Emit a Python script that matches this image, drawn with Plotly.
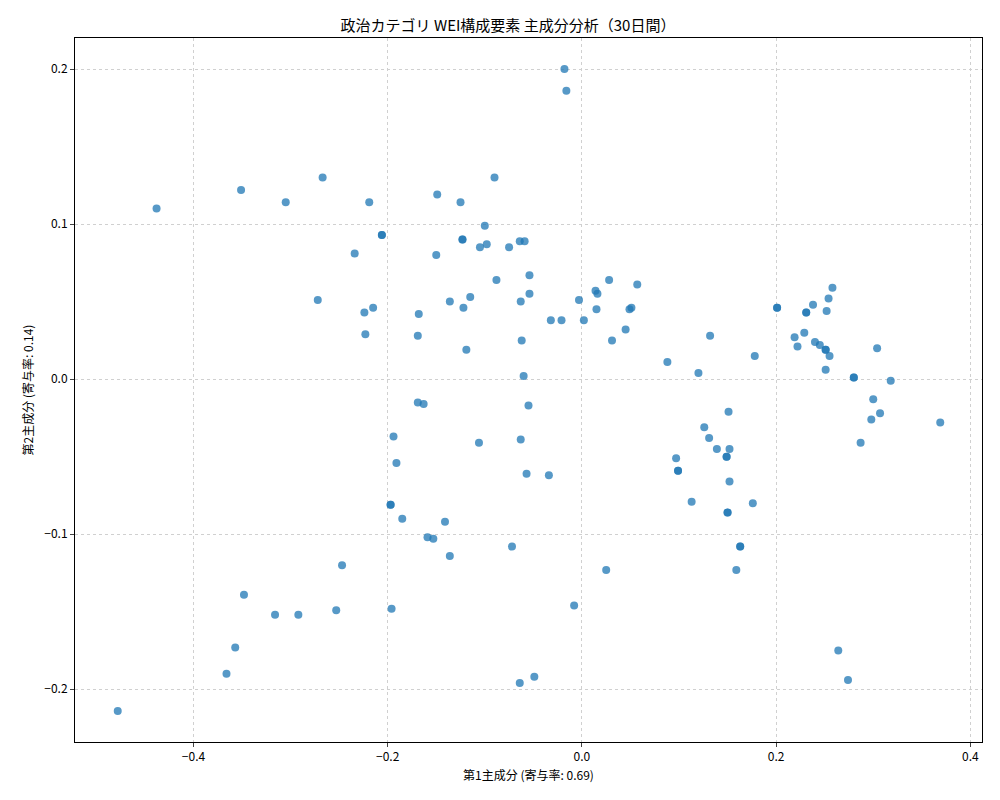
import plotly.graph_objects as go

pc1 = [-0.018, -0.016, -0.438, -0.351, -0.305, -0.267, -0.219, -0.149, -0.125, -0.090,
       -0.206, -0.206, -0.123, -0.123, -0.100, -0.098, -0.105, -0.075, -0.064, -0.059,
       -0.234, -0.150, -0.054, -0.088, 0.028, 0.057, -0.272, -0.215, -0.224, -0.168,
       -0.136, -0.115, -0.122, -0.063, -0.054, -0.003, 0.014, 0.016, 0.015, 0.045,
       0.049, 0.051, -0.032, -0.021, 0.002, -0.223, -0.169, 0.031, -0.062, -0.119,
       -0.060, -0.055, -0.169, -0.163, -0.194, -0.191, -0.106, -0.063, -0.057, -0.034,
       -0.197, -0.197, -0.185, -0.141, -0.159, -0.153, -0.136, -0.072, -0.247, -0.348,
       -0.316, -0.292, -0.253, -0.196, -0.357, -0.366, -0.478, -0.064, -0.049, -0.008,
       0.025, 0.088, 0.120, 0.132, 0.178, 0.201, 0.201, 0.219, 0.222, 0.229,
       0.231, 0.231, 0.238, 0.240, 0.245, 0.251, 0.251, 0.255, 0.254, 0.258,
       0.252, 0.251, 0.280, 0.280, 0.304, 0.300, 0.318, 0.307, 0.298, 0.287,
       0.369, 0.097, 0.099, 0.099, 0.126, 0.131, 0.139, 0.151, 0.152, 0.149,
       0.149, 0.152, 0.113, 0.176, 0.150, 0.150, 0.163, 0.163, 0.159, 0.264,
       0.274]
pc2 = [0.200, 0.186, 0.110, 0.122, 0.114, 0.130, 0.114, 0.119, 0.114, 0.130,
       0.093, 0.093, 0.090, 0.090, 0.099, 0.087, 0.085, 0.085, 0.089, 0.089,
       0.081, 0.080, 0.067, 0.064, 0.064, 0.061, 0.051, 0.046, 0.043, 0.042,
       0.050, 0.053, 0.046, 0.050, 0.055, 0.051, 0.057, 0.055, 0.045, 0.032,
       0.045, 0.046, 0.038, 0.038, 0.038, 0.029, 0.028, 0.025, 0.025, 0.019,
       0.002, -0.017, -0.015, -0.016, -0.037, -0.054, -0.041, -0.039, -0.061, -0.062,
       -0.081, -0.081, -0.090, -0.092, -0.102, -0.103, -0.114, -0.108, -0.120, -0.139,
       -0.152, -0.152, -0.149, -0.148, -0.173, -0.190, -0.214, -0.196, -0.192, -0.146,
       -0.123, 0.011, 0.004, 0.028, 0.015, 0.046, 0.046, 0.027, 0.021, 0.030,
       0.043, 0.043, 0.048, 0.024, 0.022, 0.019, 0.019, 0.015, 0.052, 0.059,
       0.044, 0.006, 0.001, 0.001, 0.020, -0.013, -0.001, -0.022, -0.026, -0.041,
       -0.028, -0.051, -0.059, -0.059, -0.031, -0.038, -0.045, -0.021, -0.045, -0.050,
       -0.050, -0.066, -0.079, -0.080, -0.086, -0.086, -0.108, -0.108, -0.123, -0.175,
       -0.194]

font = "Noto Sans CJK JP"
fig = go.Figure()
fig.add_trace(go.Scatter(x=pc1, y=pc2, mode="markers",
                         marker=dict(color="#1f77b4", size=8, opacity=0.75, line=dict(width=0))))

ax = dict(showline=True, linecolor="black", linewidth=1, mirror=True, ticks="outside",
          ticklen=4, showgrid=True, gridcolor="#d0d0d0", griddash="dot", zeroline=False,
          tickfont=dict(size=12, color="black"))
fig.update_layout(
    width=1000, height=800, plot_bgcolor="white", paper_bgcolor="white",
    font=dict(family=font, color="black"),
    title=dict(text="政治カテゴリ WEI構成要素 主成分分析（30日間）", x=0.5, xanchor="center",
               y=0.985, font=dict(size=15)),
    margin=dict(l=67, r=26, t=30, b=66),
    showlegend=False,
)
fig.update_xaxes(ax, range=[-0.522, 0.412], dtick=0.2, tickformat=".1f",
                 title=dict(text="第1主成分 (寄与率: 0.69)", font=dict(size=12), standoff=8))
fig.update_yaxes(ax, range=[-0.234, 0.220], dtick=0.1, tickformat=".1f",
                 title=dict(text="第2主成分 (寄与率: 0.14)", font=dict(size=12), standoff=8))
fig.write_html("out.html")
